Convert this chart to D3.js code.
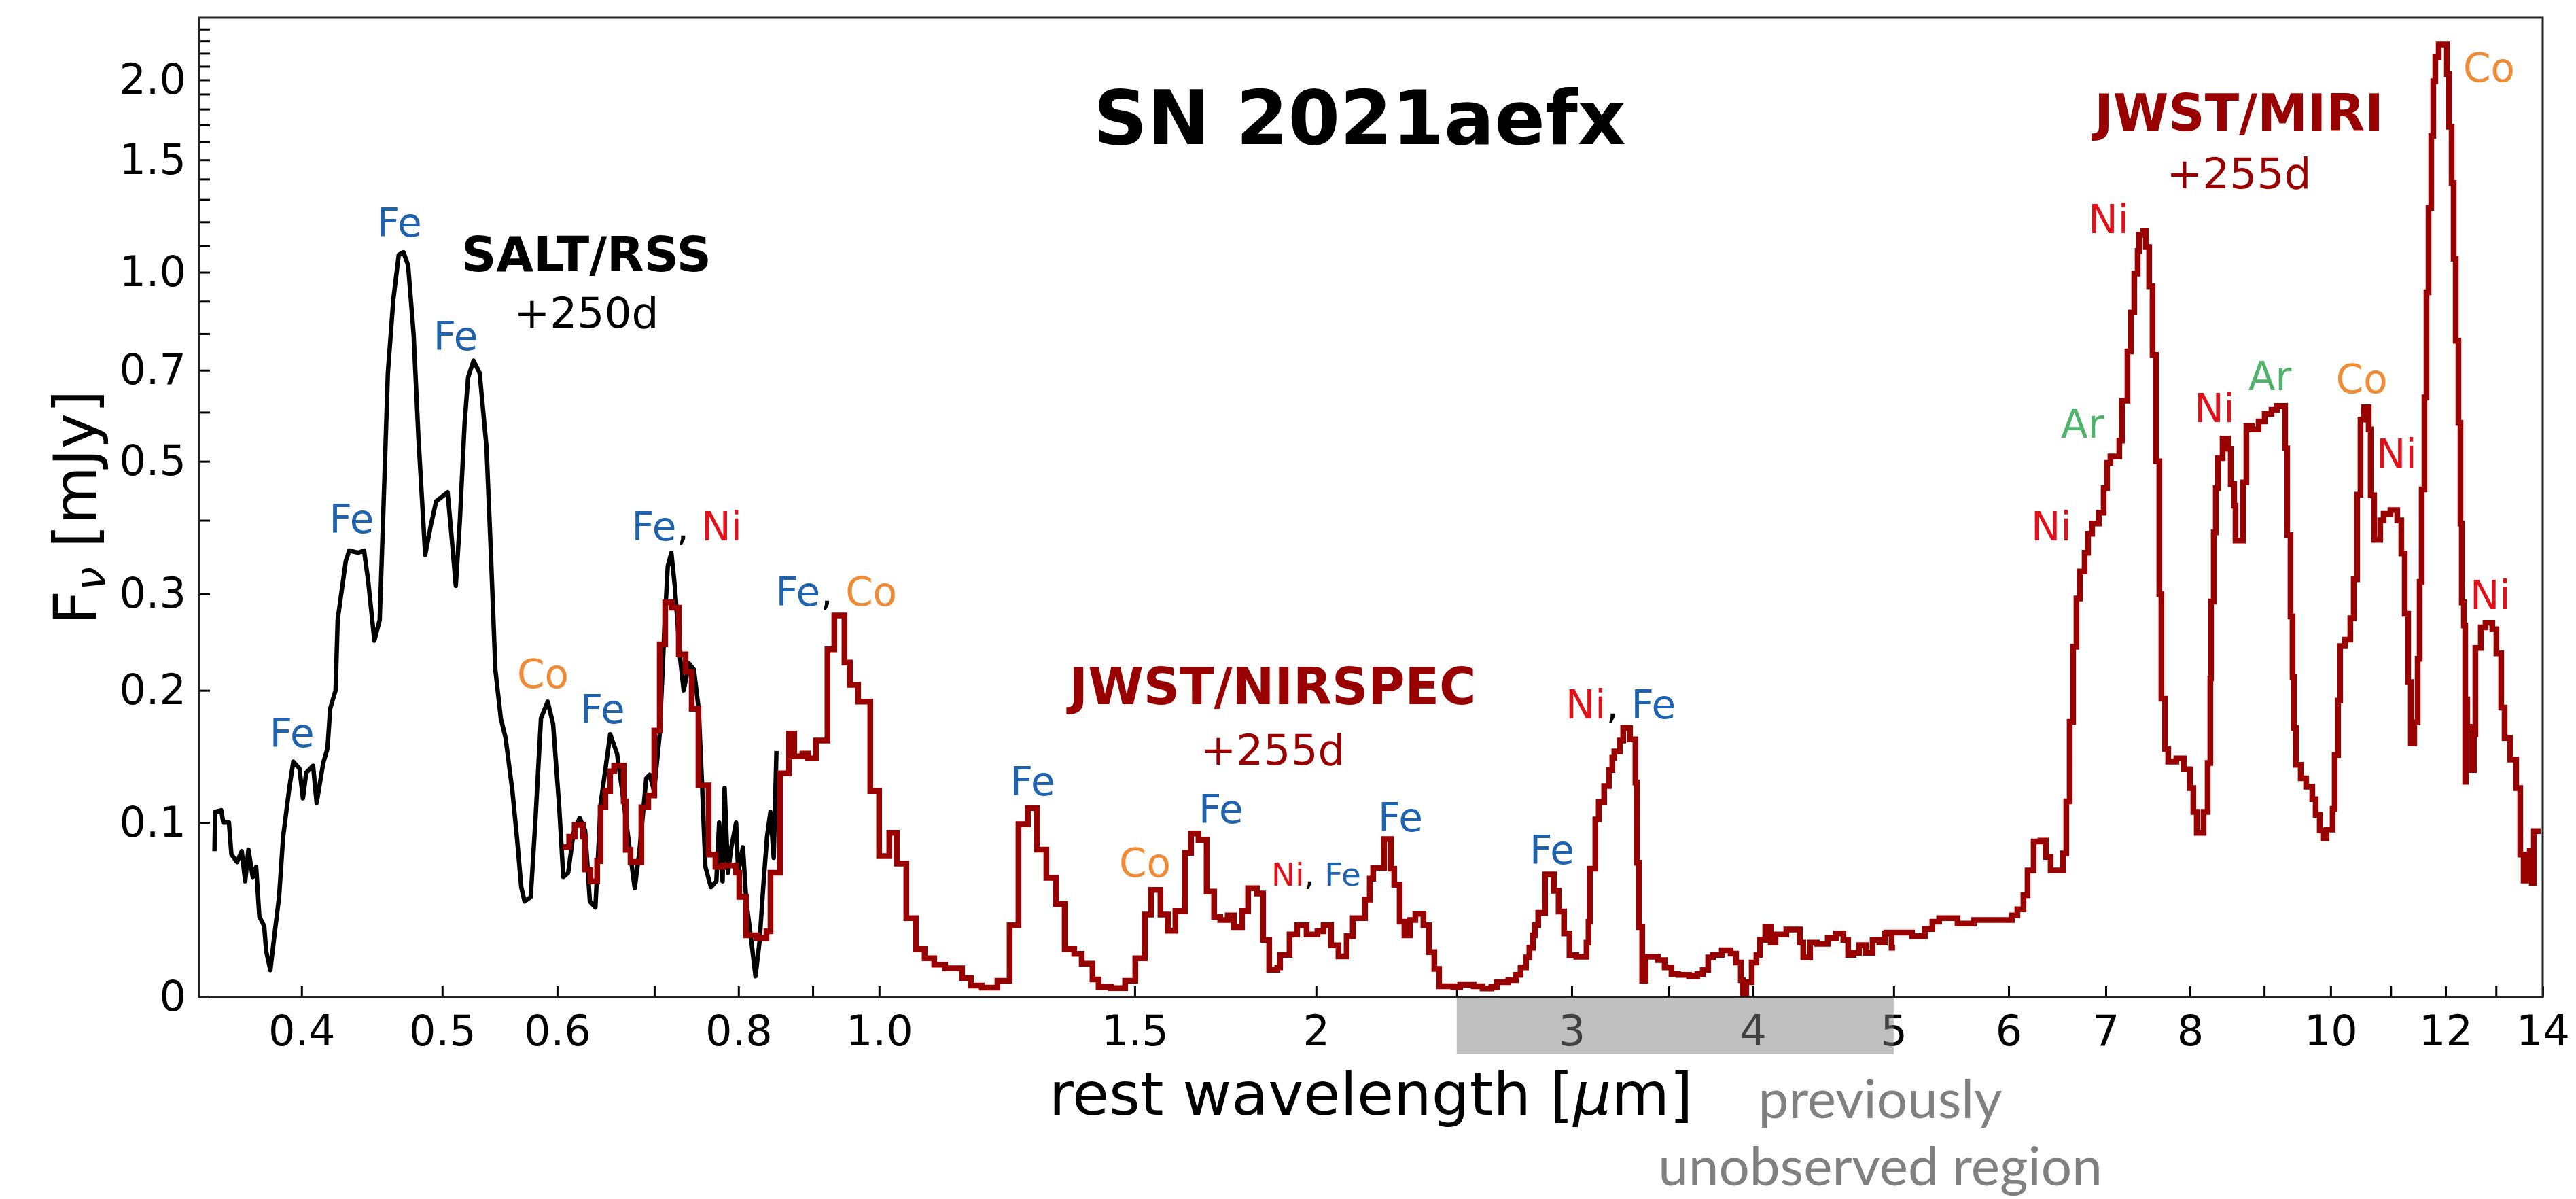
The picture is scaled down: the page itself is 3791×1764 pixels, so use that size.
<!DOCTYPE html>
<html>
<head>
<meta charset="utf-8">
<script src="https://cdn.jsdelivr.net/npm/d3@7"></script>
<style>
  body { margin: 0; background: #fff; }
  svg text { font-family: "DejaVu Sans", sans-serif; white-space: pre; }
</style>
</head>
<body>
<svg id="chart"></svg>
<script>
// SN 2021aefx spectra, [wavelength in micron, F_nu in mJy]
const saltRss = [[0.3484,0.082],[0.3488,0.107],[0.3522,0.108],[0.3533,0.100],[0.3565,0.100],[0.3579,0.080],[0.3611,0.0755],[0.3638,0.082],[0.3658,0.064],[0.3677,0.083],[0.3702,0.0665],[0.3722,0.0726],[0.3741,0.044],[0.3770,0.0385],[0.3782,0.0248],[0.3807,0.0145],[0.3831,0.0332],[0.3860,0.055],[0.3885,0.091],[0.3923,0.123],[0.3948,0.142],[0.3987,0.137],[0.4009,0.116],[0.4030,0.134],[0.4074,0.139],[0.4097,0.113],[0.4140,0.141],[0.4168,0.152],[0.4186,0.184],[0.4222,0.200],[0.4236,0.270],[0.4259,0.299],[0.4291,0.342],[0.4314,0.356],[0.4375,0.353],[0.4417,0.356],[0.4446,0.316],[0.4490,0.248],[0.4528,0.270],[0.4552,0.399],[0.4587,0.693],[0.4627,0.906],[0.4667,1.065],[0.4702,1.075],[0.4737,1.025],[0.4778,0.800],[0.4815,0.546],[0.4867,0.350],[0.4909,0.391],[0.4952,0.430],[0.5043,0.445],[0.5071,0.384],[0.5109,0.310],[0.5142,0.399],[0.5181,0.577],[0.5210,0.682],[0.5255,0.725],[0.5306,0.693],[0.5364,0.527],[0.5399,0.362],[0.5440,0.219],[0.5487,0.176],[0.5529,0.160],[0.5589,0.121],[0.5631,0.0893],[0.5668,0.0606],[0.5698,0.0524],[0.5754,0.055],[0.5798,0.103],[0.5848,0.176],[0.5911,0.190],[0.5962,0.171],[0.6020,0.110],[0.6059,0.0665],[0.6106,0.069],[0.6158,0.0935],[0.6218,0.103],[0.6272,0.095],[0.6320,0.0524],[0.6375,0.049],[0.6430,0.113],[0.6527,0.163],[0.6598,0.148],[0.6670,0.113],[0.6743,0.078],[0.6786,0.060],[0.6837,0.082],[0.6911,0.130],[0.6949,0.1325],[0.6998,0.121],[0.7060,0.163],[0.7113,0.260],[0.7151,0.335],[0.7192,0.353],[0.7231,0.310],[0.7294,0.229],[0.7334,0.200],[0.7397,0.225],[0.7454,0.219],[0.7510,0.184],[0.7550,0.127],[0.7591,0.0726],[0.7658,0.0606],[0.7724,0.064],[0.7758,0.100],[0.7801,0.064],[0.7826,0.123],[0.7868,0.069],[0.7910,0.0845],[0.7970,0.100],[0.7996,0.069],[0.8057,0.0845],[0.8100,0.0524],[0.8166,0.030],[0.8219,0.0112],[0.8272,0.030],[0.8326,0.064],[0.8371,0.091],[0.8416,0.107],[0.8460,0.078],[0.8497,0.150]];

// binned NIRSpec spectrum, each value starts a step
const nirspec = [[0.6050,0.0845],[0.6116,0.091],[0.6169,0.0985],[0.6250,0.091],[0.6270,0.071],[0.6325,0.064],[0.6393,0.076],[0.6428,0.110],[0.6477,0.121],[0.6526,0.135],[0.6568,0.139],[0.6668,0.114],[0.6690,0.0829],[0.6741,0.0755],[0.6858,0.110],[0.6933,0.118],[0.7000,0.166],[0.7061,0.244],[0.7122,0.290],[0.7199,0.284],[0.7277,0.234],[0.7356,0.217],[0.7428,0.184],[0.7508,0.125],[0.7630,0.080],[0.7713,0.0726],[0.7805,0.0734],[0.7967,0.069],[0.8010,0.055],[0.8097,0.0335],[0.8238,0.032],[0.8363,0.0357],[0.8417,0.069],[0.8545,0.1335],[0.8665,0.1635],[0.8740,0.146],[0.8854,0.148],[0.8930,0.1445],[0.9047,0.158],[0.9213,0.239],[0.9314,0.275],[0.9465,0.226],[0.9547,0.205],[0.9671,0.190],[0.9861,0.121],[1.0000,0.079],[1.0163,0.0935],[1.0284,0.0745],[1.0441,0.043],[1.0600,0.026],[1.0749,0.021],[1.0913,0.0175],[1.1103,0.0155],[1.1406,0.0102],[1.1567,0.0062],[1.1769,0.0051],[1.2064,0.0088],[1.2300,0.039],[1.2474,0.099],[1.2664,0.1095],[1.2843,0.083],[1.3038,0.066],[1.3237,0.051],[1.3423,0.026],[1.3627,0.0234],[1.3790,0.018],[1.4028,0.0095],[1.4165,0.0055],[1.4443,0.0048],[1.4773,0.0088],[1.5014,0.021],[1.5242,0.045],[1.5391,0.059],[1.5625,0.045],[1.5811,0.036],[1.6000,0.047],[1.6243,0.081],[1.6401,0.093],[1.6597,0.089],[1.6813,0.058],[1.7013,0.0437],[1.7179,0.042],[1.7384,0.0445],[1.7553,0.038],[1.7783,0.047],[1.7956,0.060],[1.8210,0.057],[1.8387,0.031],[1.8567,0.0147],[1.8808,0.016],[1.8890,0.0228],[1.9177,0.034],[1.9406,0.039],[1.9701,0.034],[2.0044,0.0357],[2.0239,0.039],[2.0480,0.028],[2.0724,0.022],[2.0994,0.033],[2.1199,0.043],[2.1615,0.0535],[2.1779,0.0655],[2.1897,0.072],[2.2278,0.0895],[2.2520,0.0715],[2.2641,0.062],[2.2837,0.041],[2.3010,0.0335],[2.3210,0.042],[2.3411,0.0455],[2.3714,0.039],[2.3920,0.0243],[2.4127,0.0152],[2.4310,0.0058],[2.4866,0.0055],[2.5135,0.0066],[2.5682,0.0058],[2.6045,0.0047],[2.6412,0.0055],[2.6641,0.008],[2.7133,0.0091],[2.7457,0.012],[2.7665,0.016],[2.7904,0.0214],[2.8055,0.0267],[2.8206,0.0335],[2.8298,0.039],[2.8451,0.046],[2.8759,0.068],[2.9165,0.0585],[2.9385,0.0467],[2.9640,0.0345],[2.9897,0.0226],[3.0221,0.0218],[3.0714,0.0295],[3.0813,0.041],[3.0880,0.0715],[3.1148,0.102],[3.1316,0.1135],[3.1587,0.1245],[3.1826,0.136],[3.1998,0.145],[3.2102,0.1497],[3.2380,0.158],[3.2555,0.168],[3.2908,0.159],[3.3193,0.127],[3.3265,0.075],[3.3373,0.038],[3.3553,0.0088],[3.3735,0.0218],[3.4396,0.020],[3.4769,0.016],[3.5146,0.0124],[3.5527,0.012],[3.6145,0.0113],[3.6617,0.0124],[3.6934,0.0146],[3.7254,0.0214],[3.7536,0.0228],[3.8066,0.0253],[3.8604,0.0235],[3.8938,0.0187],[3.9233,0.0091],[3.9360,0],[3.9573,0.008],[3.9916,0.0187],[4.0218,0.0228],[4.0436,0.031],[4.0787,0.038],[4.1140,0.0295],[4.1452,0.034],[4.2170,0.0367],[4.2719,0.0367],[4.3088,0.0295],[4.3321,0.0214],[4.3791,0.0295],[4.4265,0.0288],[4.5035,0.032],[4.5622,0.0345],[4.6166,0.031],[4.6515,0.0228],[4.6918,0.0239],[4.7325,0.0281],[4.7838,0.0239],[4.8356,0.031],[4.8880,0.0295],[4.9303,0.0345],[4.9838,0.0267],[5.0108,0.0267]];

const miri = [[4.9198,0.035],[5.1475,0.033],[5.2540,0.037],[5.3166,0.041],[5.3743,0.043],[5.5331,0.040],[5.6782,0.042],[5.8588,0.042],[6.0318,0.0445],[6.0841,0.048],[6.1433,0.056],[6.1832,0.0705],[6.2435,0.088],[6.3112,0.0885],[6.3658,0.0785],[6.4140,0.0705],[6.5397,0.0807],[6.5752,0.114],[6.6106,0.173],[6.6465,0.2417],[6.6824,0.2947],[6.7185,0.328],[6.7694,0.353],[6.8061,0.380],[6.8502,0.395],[6.9245,0.412],[6.9768,0.452],[7.0145,0.497],[7.0524,0.509],[7.1521,0.540],[7.1830,0.626],[7.2453,0.750],[7.2845,0.864],[7.3238,0.995],[7.3634,1.08],[7.3793,1.145],[7.4272,1.16],[7.4592,1.095],[7.4989,0.95],[7.5396,0.74],[7.5803,0.500],[7.6213,0.30],[7.6461,0.1925],[7.6874,0.1515],[7.7290,0.142],[7.8297,0.1445],[7.9230,0.1365],[8.0003,0.123],[8.0435,0.107],[8.0870,0.0935],[8.1747,0.107],[8.2277,0.141],[8.2632,0.211],[8.2722,0.291],[8.3081,0.382],[8.3350,0.452],[8.3619,0.506],[8.4254,0.544],[8.4984,0.524],[8.5351,0.459],[8.5812,0.423],[8.5998,0.370],[8.7022,0.462],[8.7493,0.570],[8.8250,0.563],[8.9206,0.580],[9.0077,0.596],[9.1053,0.605],[9.1840,0.614],[9.3036,0.525],[9.3338,0.378],[9.3842,0.274],[9.4145,0.212],[9.4349,0.168],[9.4654,0.1397],[9.5371,0.130],[9.6198,0.124],[9.7136,0.1155],[9.7661,0.105],[9.8296,0.095],[9.8827,0.090],[9.9355,0.0955],[10.032,0.109],[10.065,0.147],[10.119,0.191],[10.152,0.2424],[10.229,0.249],[10.318,0.272],[10.374,0.318],[10.430,0.441],[10.486,0.584],[10.543,0.611],[10.623,0.563],[10.657,0.44],[10.715,0.371],[10.819,0.40],[10.878,0.41],[10.996,0.416],[11.115,0.40],[11.187,0.352],[11.248,0.277],[11.309,0.2075],[11.357,0.156],[11.419,0.1726],[11.481,0.2295],[11.518,0.315],[11.555,0.45],[11.605,0.634],[11.643,0.93],[11.681,1.262],[11.731,1.635],[11.769,1.99],[11.807,2.17],[11.871,2.27],[12.026,2.04],[12.065,1.69],[12.117,1.38],[12.156,1.05],[12.196,0.78],[12.248,0.577],[12.288,0.395],[12.314,0.29],[12.354,0.264],[12.381,0.1275],[12.394,0.192],[12.420,0.169],[12.514,0.136],[12.555,0.163],[12.582,0.2404],[12.690,0.262],[12.786,0.267],[12.925,0.26],[13.009,0.235],[13.108,0.185],[13.179,0.16],[13.293,0.1435],[13.423,0.123],[13.510,0.080],[13.583,0.0645],[13.627,0.080],[13.672,0.0645],[13.716,0.082],[13.760,0.063],[13.805,0.0945],[13.954,0.0945]];

// line identifications: label, wavelength, flux at label baseline, small?
const lineLabels = [
  ["Fe", 0.394, 0.153], ["Fe", 0.4331, 0.381], ["Fe", 0.4671, 1.139], ["Fe", 0.5108, 0.7545],
  ["Co", 0.5866, 0.202], ["Fe", 0.6448, 0.1718], ["Fe, Ni", 0.737, 0.370], ["Fe, Co", 0.9343, 0.286],
  ["Fe", 1.2757, 0.118], ["Co", 1.5245, 0.0666], ["Fe", 1.7199, 0.0996], ["Ni, Fe", 2.0, 0.0614, true],
  ["Fe", 2.2864, 0.0943], ["Fe", 2.9076, 0.0743], ["Ni, Fe", 3.2427, 0.1757],
  ["Ni", 6.4209, 0.370], ["Ar", 6.7473, 0.5465], ["Ni", 7.0307, 1.153], ["Ni", 8.3176, 0.579],
  ["Ar", 9.0826, 0.650], ["Co", 10.508, 0.645], ["Ni", 11.102, 0.488], ["Co", 12.857, 1.988],
  ["Ni", 12.882, 0.282]
];
const elementColor = { Fe: "#1f62ae", Ni: "#e3101a", Co: "#ef8a35", Ar: "#4fb36b" };

const xTickValues = [0.4, 0.5, 0.6, 0.7, 0.8, 0.9, 1.0, 1.5, 2, 2.5, 3, 3.5, 4, 5, 6, 7, 8, 9, 10, 11, 12, 13, 14];
const xTickLabelValues = [0.4, 0.5, 0.6, 0.8, 1.0, 1.5, 2, 3, 4, 5, 6, 7, 8, 10, 12, 14];
const xTickLabels = ["0.4", "0.5", "0.6", "0.8", "1.0", "1.5", "2", "3", "4", "5", "6", "7", "8", "10", "12", "14"];
const yTickValues = [0, 0.1, 0.2, 0.3, 0.4, 0.5, 0.6, 0.7, 0.8, 0.9, 1.0, 1.1, 1.2, 1.3, 1.4, 1.5, 1.6, 1.7, 1.8, 1.9, 2.0, 2.1, 2.2, 2.3, 2.4];
const yTickLabelValues = [0, 0.1, 0.2, 0.3, 0.5, 0.7, 1.0, 1.5, 2.0];
const yTickLabels = ["0", "0.1", "0.2", "0.3", "0.5", "0.7", "1.0", "1.5", "2.0"];
const unobserved = [2.5, 5];

const W = 3791, H = 1764;
const pLeft = 293, pRight = 3742, pTop = 26, pBottom = 1467;
const darkRed = "#990000";
const A = 0.15; // asinh softening

const x = d3.scaleLog().domain([0.34, 14]).range([pLeft, pRight]);
const yT = d3.scaleLinear().domain([0, Math.asinh(2.5 / A)]).range([pBottom, pTop]);
const y = v => yT(Math.asinh(Math.max(v, 0) / A));

const svg = d3.select("#chart").attr("width", W).attr("height", H);
svg.append("rect").attr("width", W).attr("height", H).attr("fill", "#fff");

svg.append("clipPath").attr("id", "plot")
  .append("rect").attr("x", pLeft).attr("y", pTop).attr("width", pRight - pLeft).attr("height", pBottom - pTop);

// axes
const xAxis = d3.axisBottom(x)
  .tickValues(xTickValues)
  .tickFormat(d => { const i = xTickLabelValues.indexOf(d); return i < 0 ? "" : xTickLabels[i]; })
  .tickSize(-16).tickPadding(27);
const gx = svg.append("g").attr("transform", `translate(0,${pBottom})`).call(xAxis);

const yAxis = d3.axisLeft(yT)
  .tickValues(yTickValues.map(v => Math.asinh(v / A)))
  .tickFormat((t, i) => { const j = yTickLabelValues.indexOf(yTickValues[i]); return j < 0 ? "" : yTickLabels[j]; })
  .tickSize(-16).tickPadding(19);
const gy = svg.append("g").attr("transform", `translate(${pLeft},0)`).call(yAxis);

[gx, gy].forEach(g => {
  g.select(".domain").remove();
  g.selectAll(".tick line").attr("stroke", "#000").attr("stroke-width", 3);
  g.selectAll(".tick text").attr("fill", "#000").style("font-size", "62px").style("font-family", "DejaVu Sans");
});

// spectra
const plot = svg.append("g").attr("clip-path", "url(#plot)");
const lineLin = d3.line().x(d => x(d[0])).y(d => y(d[1]));
const lineStep = d3.line().x(d => x(d[0])).y(d => y(d[1])).curve(d3.curveStepAfter);

plot.append("path").datum(saltRss).attr("d", lineLin)
  .attr("fill", "none").attr("stroke", "#000").attr("stroke-width", 6.5).attr("stroke-linejoin", "round");
plot.append("path").datum(nirspec).attr("d", lineStep)
  .attr("fill", "none").attr("stroke", darkRed).attr("stroke-width", 8.5);
plot.append("path").datum(miri).attr("d", lineStep)
  .attr("fill", "none").attr("stroke", darkRed).attr("stroke-width", 8.5);

// frame
svg.append("rect").attr("x", pLeft).attr("y", pTop).attr("width", pRight - pLeft).attr("height", pBottom - pTop)
  .attr("fill", "none").attr("stroke", "#222").attr("stroke-width", 3);

// previously unobserved band, over the tick labels
svg.append("rect")
  .attr("x", x(unobserved[0])).attr("y", pBottom + 2)
  .attr("width", x(unobserved[1]) - x(unobserved[0])).attr("height", 82)
  .attr("fill", "#808080").attr("opacity", 0.5);
const un = svg.append("g").attr("fill", "#808080").attr("text-anchor", "middle");
un.append("text").attr("x", 2767).attr("y", 1645).style("font-family", "Lato").style("font-size", "80px").text("previously");
un.append("text").attr("x", 2767).attr("y", 1744).style("font-family", "Lato").style("font-size", "80px").text("unobserved region");

// axis labels
const xl = svg.append("text").attr("x", (pLeft + pRight) / 2).attr("y", 1640).attr("text-anchor", "middle").style("font-size", "88px");
xl.append("tspan").text("rest wavelength [");
xl.append("tspan").style("font-style", "italic").text("μ");
xl.append("tspan").text("m]");

const yl = svg.append("text").attr("transform", `translate(141,${(pTop + pBottom) / 2}) rotate(-90)`)
  .attr("text-anchor", "middle").style("font-size", "88px");
yl.append("tspan").text("F");
yl.append("tspan").attr("dy", 14).style("font-size", "62px").style("font-style", "italic").text("ν");
yl.append("tspan").attr("dy", -14).text(" [mJy]");

// title and instrument labels
svg.append("text").attr("x", 2001).attr("y", 212).attr("text-anchor", "middle")
  .style("font-size", "110px").style("font-weight", "bold").text("SN 2021aefx");

const inst = [
  { name: "SALT/RSS", phase: "+250d", cx: 863, y1: 399, y2: 482, color: "#000", size: 71 },
  { name: "JWST/NIRSPEC", phase: "+255d", cx: 1873, y1: 1036, y2: 1125, color: darkRed, size: 74 },
  { name: "JWST/MIRI", phase: "+255d", cx: 3295, y1: 192, y2: 277, color: darkRed, size: 74 }
];
inst.forEach(d => {
  svg.append("text").attr("x", d.cx).attr("y", d.y1).attr("text-anchor", "middle").attr("fill", d.color)
    .style("font-size", d.size + "px").style("font-weight", "bold").text(d.name);
  svg.append("text").attr("x", d.cx).attr("y", d.y2).attr("text-anchor", "middle").attr("fill", d.color)
    .style("font-size", "63px").text(d.phase);
});

// line identifications
lineLabels.forEach(([label, w, f, small]) => {
  const t = svg.append("text").attr("x", x(w)).attr("y", y(f)).attr("text-anchor", "middle")
    .style("font-size", small ? "47px" : "58px");
  label.split(", ").forEach((el, i) => {
    if (i > 0) t.append("tspan").attr("fill", "#000").text(", ");
    t.append("tspan").attr("fill", elementColor[el]).text(el);
  });
});
</script>
</body>
</html>
